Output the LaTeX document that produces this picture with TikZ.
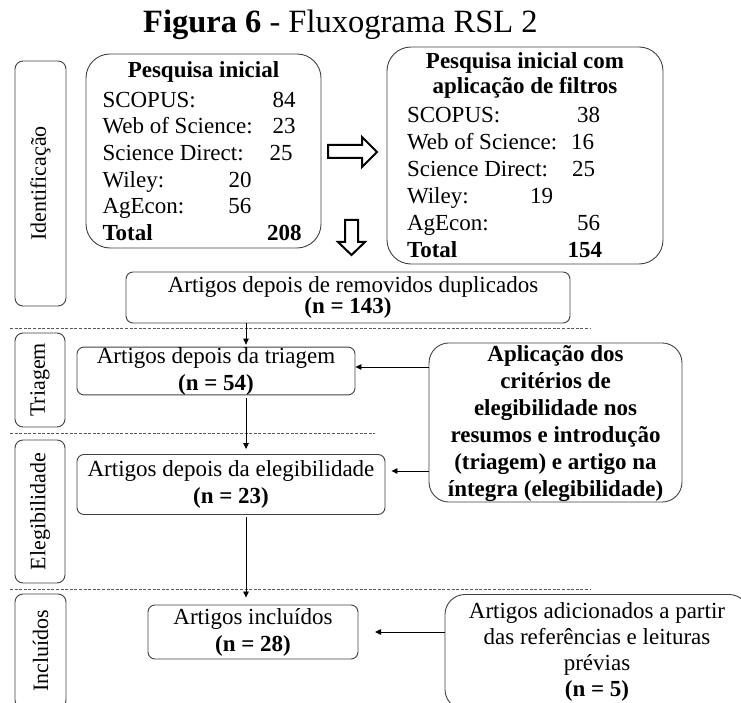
\documentclass[tikz,border=0pt]{standalone}
\usepackage{fontspec}
\setmainfont{Liberation Serif}
\usetikzlibrary{arrows.meta}
\tikzset{
  box/.style={draw=black!75, line width=0.9pt, rounded corners=7pt, inner sep=0pt, align=center,
    font=\fontsize{23}{27}\selectfont},
  bigbox/.style={box, rounded corners=24pt},
  midbox/.style={box, rounded corners=20pt},
  labbox/.style={box, rounded corners=8pt, rotate=90, font=\fontsize{22}{26}\selectfont},
  arr/.style={-{Triangle[length=6pt,width=5.5pt]}, line width=0.8pt, draw=black},
  sepline/.style={draw=black!65, line width=0.8pt, dash pattern=on 3pt off 1.6pt},
  hollow/.style={draw=black, line width=2pt, fill=white, line join=miter},
  ttl/.style={anchor=base west, inner sep=0pt, font=\fontsize{32.5}{38}\selectfont}
}
\begin{document}
\begin{tikzpicture}[x=1pt,y=-1pt]
\useasboundingbox (0,0) rectangle (741,703);
\clip (0,0) rectangle (741,703);

% title
\node[ttl] (title) at (143,33) {\textbf{Figura 6} - Fluxograma RSL 2};

% stage labels
\node[labbox, minimum width=245pt, minimum height=51pt] (lid) at (40.5,183.5) {Identificação};
\node[labbox, minimum width=94pt, minimum height=50pt] (ltr) at (40,380) {Triagem};
\node[labbox, minimum width=143pt, minimum height=50pt] (lel) at (40,511.5) {Elegibilidade};
\node[labbox, minimum width=114pt, minimum height=51pt] (lin) at (40.5,651) {Incluídos};

% initial search
\node[bigbox, align=left, minimum width=235pt, minimum height=194pt,
      font=\fontsize{23}{26.6}\selectfont] (pi) at (203.5,151) {%
\makebox[202pt]{\textbf{Pesquisa inicial}}\\[3.4pt]
\hbox to 193pt{SCOPUS:\hfill 84}\\
\hbox to 193pt{Web of Science:\hfill 23}\\
\hbox to 190pt{Science Direct:\hfill 25}\\
\hbox to 149pt{Wiley:\hfill 20}\\
\hbox to 149pt{AgEcon:\hfill 56}\\
\hbox to 199pt{\textbf{Total}\hfill\textbf{208}}};

% filtered search
\node[bigbox, align=left, minimum width=276pt, minimum height=217pt,
      font=\fontsize{23}{27}\selectfont] (pf) at (525,155.5) {%
\makebox[236pt]{\textbf{Pesquisa inicial com}}\\[-2pt]
\makebox[236pt]{\textbf{aplicação de filtros}}\\[2pt]
\hbox to 193pt{SCOPUS:\hfill 38}\\
\hbox to 187pt{Web of Science:\hfill 16}\\
\hbox to 188pt{Science Direct:\hfill 25}\\
\hbox to 146pt{Wiley:\hfill 19}\\
\hbox to 193pt{AgEcon:\hfill 56}\\
\hbox to 195pt{\textbf{Total}\hfill\textbf{154}}};

% hollow block arrows
\draw[hollow] (328,145) -- (362,145) -- (362,137) -- (377,152) -- (362,167) -- (362,158) -- (328,158) -- cycle;
\draw[hollow] (345,220) -- (358,220) -- (358,242) -- (365,242) -- (351.5,255) -- (338,242) -- (345,242) -- cycle;

% flow boxes
\node[box, minimum width=444pt, minimum height=51pt, font=\fontsize{23}{21}\selectfont] (dup) at (348,297.5)
  {\hspace*{10pt}Artigos depois de removidos duplicados\\\textbf{(n = 143)}};
\node[box, minimum width=278pt, minimum height=46pt] (tri) at (216,371)
  {Artigos depois da triagem\\\textbf{(n = 54)}};
\node[box, minimum width=308pt, minimum height=60pt] (ele) at (231,484.5)
  {Artigos depois da elegibilidade\\\textbf{(n = 23)}};
\node[box, minimum width=210pt, minimum height=54pt] (inc) at (253,632)
  {Artigos incluídos\\\textbf{(n = 28)}};

\node[midbox, minimum width=253pt, minimum height=159pt, font=\bfseries\fontsize{23}{27}\selectfont] (apl) at (555.5,422.5)
  {\rule{0pt}{19pt}Aplicação dos\\critérios de\\elegibilidade nos\\resumos e introdução\\(triagem) e artigo na\\íntegra (elegibilidade)};
\node[midbox, minimum width=304pt, minimum height=115pt, font=\fontsize{23}{26}\selectfont] (add) at (597,652)
  {Artigos adicionados a partir\\das referências e leituras\\prévias\\\textbf{(n = 5)}};

% dashed separators
\coordinate (s1a) at (10,328);  \coordinate (s1b) at (590,328);
\coordinate (s2a) at (10,433);  \coordinate (s2b) at (375,433);
\coordinate (s3a) at (10,589);  \coordinate (s3b) at (590,589);
\draw[sepline] (s1a) -- (s1b);
\draw[sepline] (s2a) -- (s2b);
\draw[sepline] (s3a) -- (s3b);

% connectors
\coordinate (ax) at (246,0);
\coordinate (c1) at (0,367);
\coordinate (c2) at (0,471);
\coordinate (addend) at (375,632);
\draw[arr, shorten >=2pt] (dup.south -| ax) -- (tri.north -| ax);
\draw[arr, shorten <=3pt, shorten >=5pt] (tri.south -| ax) -- (ele.north -| ax);
\draw[arr, shorten <=2pt, shorten >=7pt] (ele.south -| ax) -- (inc.north -| ax);
\draw[arr] (apl.west |- c1) -- (tri.east |- c1);
\draw[arr, shorten >=6pt] (apl.west |- c2) -- (ele.east |- c2);
\draw[arr] (add.west |- addend) -- (addend);
\end{tikzpicture}
\end{document}
